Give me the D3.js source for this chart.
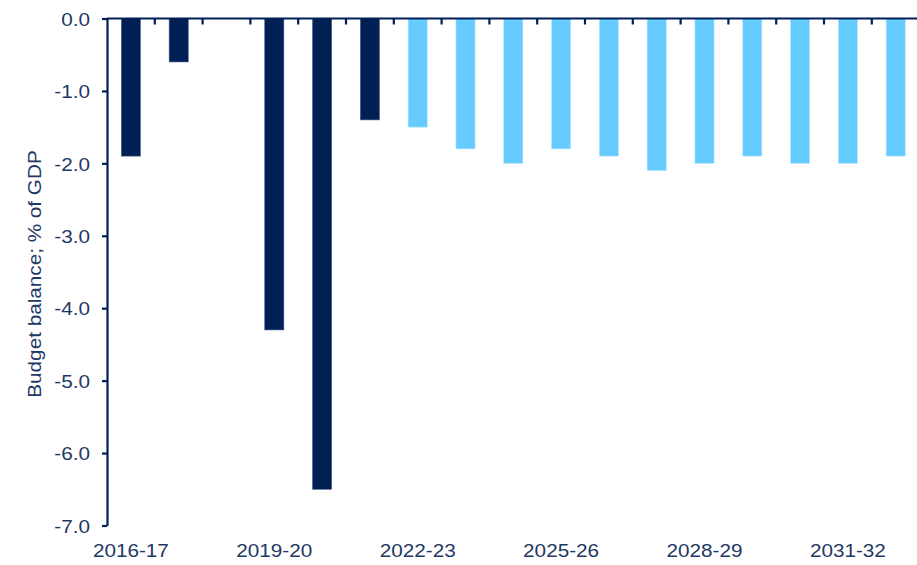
<!DOCTYPE html>
<html>
<head>
<meta charset="utf-8">
<script src="https://cdn.jsdelivr.net/npm/d3@7"></script>
<style>
  html, body { margin: 0; padding: 0; background: #ffffff; overflow: hidden; }
  svg { display: block; }
  text { font-family: "Liberation Sans", Arial, sans-serif; }
</style>
</head>
<body>
<svg id="chart" width="917" height="565"></svg>
<script>
// ---- data ----
const categories = ["2016-17","2017-18","2018-19","2019-20","2020-21","2021-22","2022-23","2023-24","2024-25","2025-26","2026-27","2027-28","2028-29","2029-30","2030-31","2031-32","2032-33"];
const balance = [-1.9, -0.6, 0.0, -4.3, -6.5, -1.4, -1.5, -1.8, -2.0, -1.8, -1.9, -2.1, -2.0, -1.9, -2.0, -2.0, -1.9];
const isForecast = [false,false,false,false,false,false,true,true,true,true,true,true,true,true,true,true,true];
const yTicks = [0, -1, -2, -3, -4, -5, -6, -7];
const yTickLabels = ["0.0","-1.0","-2.0","-3.0","-4.0","-5.0","-6.0","-7.0"];
const xLabels = ["2016-17","2019-20","2022-23","2025-26","2028-29","2031-32"];
const yTitle = "Budget balance; % of GDP";

// ---- layout ----
const svg = d3.select("#chart");
const mLeft = 107, mRight = 919.6, mTop = 18.5, mBottom = 525.5;
const navy = "#001f54";
const light = "#66ccff";
const textCol = "#1f3864";
const fs = 18.5, stretch = 1.12;

const x = d3.scaleBand().domain(categories).range([mLeft, mRight]).paddingInner(0.6).paddingOuter(0.3);
const y = d3.scaleLinear().domain([-7, 0]).range([mBottom, mTop]);

// bars
svg.append("g").selectAll("rect").data(categories).join("rect")
  .attr("x", d => x(d))
  .attr("width", x.bandwidth())
  .attr("y", (d, i) => y(Math.max(0, balance[i])))
  .attr("height", (d, i) => Math.abs(y(balance[i]) - y(0)))
  .attr("fill", (d, i) => isForecast[i] ? light : navy)
  .attr("stroke", (d, i) => isForecast[i] ? "#b3e6ff" : "#4a5f8c")
  .attr("stroke-width", 0.6);

// y axis
const yAxis = d3.axisLeft(y).tickValues(yTicks)
  .tickFormat((d, i) => yTickLabels[i]).tickSize(5).tickSizeOuter(0).tickPadding(12);
const gy = svg.append("g").attr("transform", `translate(${mLeft},0)`).call(yAxis);
gy.select(".domain").attr("stroke", navy).attr("stroke-width", 2.2);
gy.selectAll(".tick line").attr("stroke", navy).attr("stroke-width", 2.2);
gy.selectAll(".tick text")
  .attr("fill", textCol).attr("font-size", fs)
  .attr("font-family", "Liberation Sans, Arial, sans-serif")
  .attr("x", 0).attr("dy", "0.36em")
  .attr("transform", `translate(-17,0) scale(${stretch},1)`);

// x axis along zero line, ticks at band boundaries
const step = x.step();
const boundaries = d3.range(categories.length + 1).map(i => mLeft + i * step);
const gx = svg.append("g");
gx.append("line")
  .attr("x1", mLeft).attr("x2", mRight + 2)
  .attr("y1", y(0)).attr("y2", y(0))
  .attr("stroke", navy).attr("stroke-width", 2.2);
gx.selectAll("line.tk").data(boundaries.slice(1)).join("line")
  .attr("class", "tk")
  .attr("x1", d => d).attr("x2", d => d)
  .attr("y1", y(0)).attr("y2", y(0) + 6)
  .attr("stroke", navy).attr("stroke-width", 2.2);

// category labels
svg.append("g").selectAll("text").data(xLabels).join("text")
  .attr("transform", d => `translate(${x(d) + x.bandwidth() / 2},556.5) scale(${stretch},1)`)
  .attr("text-anchor", "middle")
  .attr("fill", textCol).attr("font-size", fs)
  .text(d => d);

// y title
svg.append("text")
  .attr("transform", `translate(41,274) rotate(-90) scale(${stretch},1)`)
  .attr("text-anchor", "middle")
  .attr("fill", textCol).attr("font-size", fs)
  .text(yTitle);
</script>
</body>
</html>
